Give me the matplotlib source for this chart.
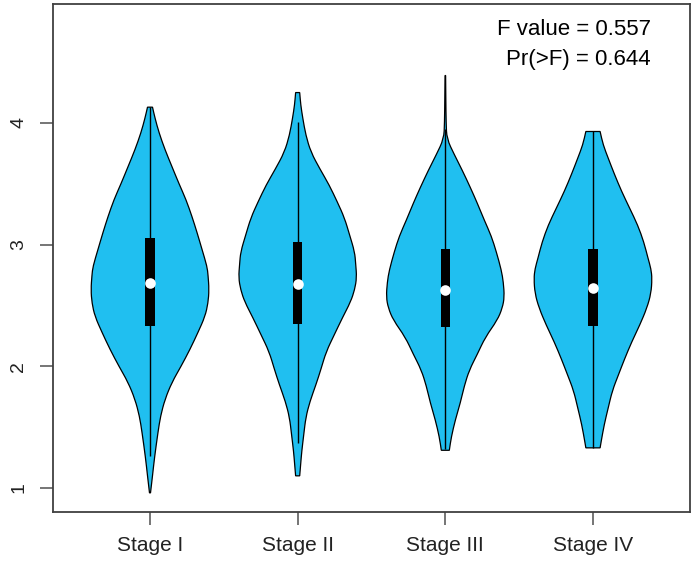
import numpy as np
import matplotlib
matplotlib.use("Agg")
import matplotlib.pyplot as plt
from matplotlib.path import Path
from matplotlib.patches import PathPatch

plt.rcParams['font.family'] = ['Liberation Sans', 'DejaVu Sans']

stages = ["Stage I", "Stage II", "Stage III", "Stage IV"]

# violin outlines: y level and relative half width
s1_levels = [0.96, 1.10, 1.25, 1.46, 1.59, 1.73, 1.87, 2.00, 2.14, 2.28, 2.41, 2.52, 2.63,
             2.75, 2.82, 2.96, 3.10, 3.23, 3.37, 3.50, 3.64, 3.78, 3.92, 4.04, 4.13]
s1_width = [0.5, 2.5, 4.5, 8, 10.5, 15, 22, 31, 40, 48, 55, 58, 59,
            58, 57, 52, 47, 42, 36, 29, 22, 15, 9, 5, 2.5]

s2_levels = [1.10, 1.20, 1.30, 1.44, 1.58, 1.71, 1.85, 1.98, 2.12, 2.26, 2.40, 2.53, 2.63,
             2.73, 2.84, 2.94, 3.08, 3.22, 3.35, 3.49, 3.62, 3.76, 3.90, 4.04, 4.15, 4.25]
s2_width = [2, 3, 4, 6, 8, 12, 18, 23, 28, 36, 44, 52, 56,
            58, 57, 56, 51, 46, 39, 31, 22, 13, 8, 5, 3, 2]

s3_levels = [1.31, 1.42, 1.56, 1.70, 1.84, 1.97, 2.10, 2.24, 2.38, 2.48, 2.57, 2.69, 2.79,
             2.94, 3.07, 3.20, 3.34, 3.47, 3.61, 3.74, 3.87, 4.00, 4.20, 4.39]
s3_width = [4, 6, 10, 15, 19, 24, 32, 40, 52, 57, 59, 58, 56,
            51, 46, 39, 32, 25, 17, 9, 1.5, 0.8, 0.5, 0.3]

s4_levels = [1.33, 1.38, 1.52, 1.66, 1.80, 1.93, 2.06, 2.20, 2.34, 2.48, 2.60, 2.72, 2.80,
             2.89, 3.02, 3.16, 3.30, 3.44, 3.58, 3.71, 3.82, 3.93]
s4_width = [7, 8, 11, 15, 19, 25, 31, 38, 46, 53, 57, 58, 57,
            54, 50, 44, 36, 28, 21, 15, 10, 7]

levels = [s1_levels, s2_levels, s3_levels, s4_levels]
widths = [s1_width, s2_width, s3_width, s4_width]

q1 = [2.33, 2.35, 2.32, 2.33]
medians = [2.685, 2.677, 2.628, 2.642]
q3 = [3.055, 3.025, 2.965, 2.965]
whisk_lo = [1.26, 1.37, 1.32, 1.33]
whisk_hi = [4.13, 4.01, 3.95, 3.93]

f_value = 0.557
p_value = 0.644


def smooth_side(xs, ys):
    # quadratic bezier through midpoints, rounds off the corners
    verts, codes = [], []
    n = len(xs)
    verts.append(((xs[0] + xs[1]) / 2, (ys[0] + ys[1]) / 2))
    codes.append(Path.LINETO)
    for k in range(1, n - 1):
        verts.append((xs[k], ys[k]))
        verts.append(((xs[k] + xs[k + 1]) / 2, (ys[k] + ys[k + 1]) / 2))
        codes += [Path.CURVE3, Path.CURVE3]
    verts.append((xs[-1], ys[-1]))
    codes.append(Path.LINETO)
    return verts, codes


fig = plt.figure(figsize=(7.0, 5.77), dpi=100)
ax = fig.add_axes([0.0757, 0.1127, 0.91, 0.8804])

for i in range(len(stages)):
    pos = i + 1
    lv = np.array(levels[i])
    w = np.array(widths[i], dtype=float)
    w = 0.4 * w / w.max()
    verts = [(pos - w[0], lv[0]), (pos + w[0], lv[0])]
    codes = [Path.MOVETO, Path.LINETO]
    v, c = smooth_side(pos + w, lv)
    verts += v
    codes += c
    verts.append((pos - w[-1], lv[-1]))
    codes.append(Path.LINETO)
    v, c = smooth_side((pos - w)[::-1], lv[::-1])
    verts += v
    codes += c
    verts.append((0, 0))
    codes.append(Path.CLOSEPOLY)
    ax.add_patch(PathPatch(Path(verts, codes), facecolor="#20bff0",
                           edgecolor="black", linewidth=0.9, zorder=2))
    ax.vlines(pos, whisk_lo[i], whisk_hi[i], color="black", linewidth=1.0, zorder=3)
    ax.bar(pos, q3[i] - q1[i], bottom=q1[i], width=0.062, color="black", zorder=4)
    ax.scatter(pos, medians[i], s=58, color="white", zorder=5, linewidths=0)

ax.text(4.393, 4.772, "F value = %.3f" % f_value, ha="right", va="center", fontsize=16)
ax.text(4.393, 4.518, "Pr(>F) = %.3f" % p_value, ha="right", va="center", fontsize=16)

ax.set_xlim(0.343, 4.657)
ax.set_ylim(0.803, 4.978)
ax.set_xticks([1, 2, 3, 4])
ax.set_xticklabels(stages)
ax.set_yticks([1, 2, 3, 4])

for sp in ax.spines.values():
    sp.set_color("#404040")
    sp.set_linewidth(1.3)
ax.tick_params(axis="both", length=9.4, width=1.1, color="#505050", labelcolor="#222222")
ax.tick_params(axis="x", labelsize=15, pad=8)
ax.tick_params(axis="y", labelsize=14, pad=9, labelrotation=90)
for lab in ax.get_yticklabels():
    lab.set_va("center")

fig.savefig("out.png", dpi=100)
